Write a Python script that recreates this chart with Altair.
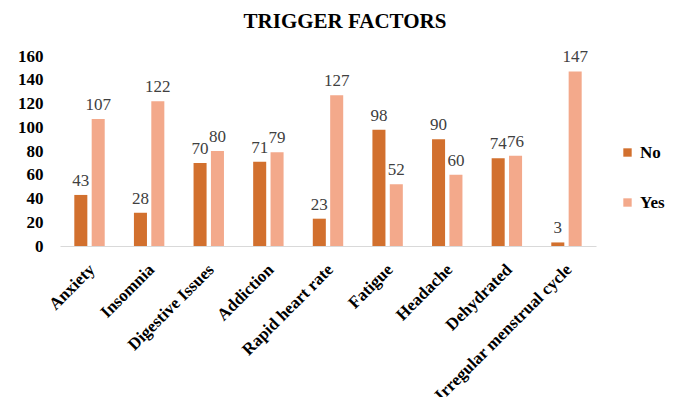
import altair as alt
import pandas as pd

categories = ["Anxiety", "Insomnia", "Digestive Issues", "Addiction", "Rapid heart rate",
              "Fatigue", "Headache", "Dehydrated", "Irregular menstrual cycle"]
no_values = [43, 28, 70, 71, 23, 98, 90, 74, 3]
yes_values = [107, 122, 80, 79, 127, 52, 60, 76, 147]
series = ["No", "Yes"]
colors = ["#D2702E", "#F3A98B"]
y_ticks = [0, 20, 40, 60, 80, 100, 120, 140, 160]

rows = []
for c, n, y in zip(categories, no_values, yes_values):
    rows.append({"cat": c, "series": "No", "value": n})
    rows.append({"cat": c, "series": "Yes", "value": y})
df = pd.DataFrame(rows)

FONT = "Liberation Serif, Times New Roman, serif"

x = alt.X("cat:N", sort=categories, title=None,
          scale=alt.Scale(paddingInner=0.49, paddingOuter=0.24),
          axis=alt.Axis(labelAngle=-45, labelFont=FONT, labelFontSize=17, labelFontWeight="bold",
                        labelColor="#000000", ticks=False, domainColor="#D9D9D9", labelPadding=15,
                        labelOffset=-3, labelLimit=300))
xo = alt.XOffset("series:N", sort=series, scale=alt.Scale(paddingInner=0.25))
y = alt.Y("value:Q", title=None,
          scale=alt.Scale(domain=[0, 160]),
          axis=alt.Axis(values=y_ticks, grid=False, domain=False, ticks=False, labelFont=FONT,
                        labelFontSize=17, labelFontWeight="bold", labelColor="#000000",
                        labelPadding=17))

bars = alt.Chart(df).mark_bar().encode(
    x=x, xOffset=xo, y=y,
    color=alt.Color("series:N", sort=series,
                    scale=alt.Scale(domain=series, range=colors),
                    legend=alt.Legend(title=None, orient="none", legendX=559, legendY=88,
                                      symbolType="square", symbolSize=70, symbolStrokeWidth=0,
                                      labelFont=FONT, labelFontSize=17, labelFontWeight="bold",
                                      labelColor="#000000", rowPadding=32, labelOffset=4)),
)

labels = alt.Chart(df).mark_text(font=FONT, fontSize=17, color="#404040", baseline="alphabetic", dy=-9).encode(
    x=x, xOffset=xo, y=y, text="value:Q"
)

chart = (bars + labels).properties(
    width=536, height=190,
    padding={"left": 52, "top": 48, "right": 72, "bottom": 151},
    autosize=alt.AutoSizeParams(type="none"),
    title=alt.TitleParams("TRIGGER FACTORS", font=FONT, fontSize=21, fontWeight="bold",
                          color="#000000", anchor="middle", frame="group", offset=15, dx=17),
).configure_view(stroke=None)

chart.save("out.html", embed_options={"renderer": "svg", "actions": False})
